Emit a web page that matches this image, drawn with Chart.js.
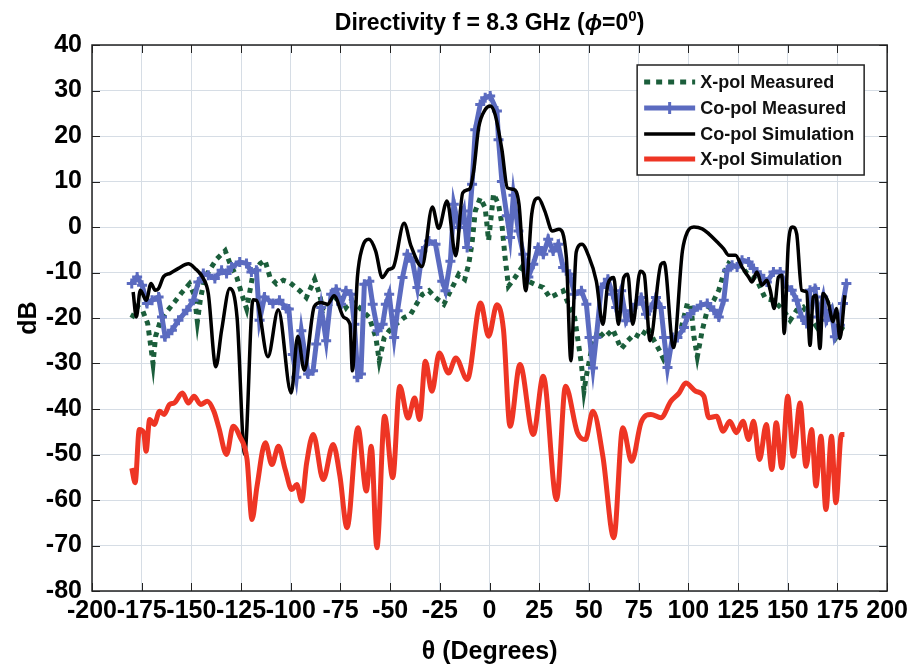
<!DOCTYPE html>
<html>
<head>
<meta charset="utf-8">
<script src="https://cdn.jsdelivr.net/npm/chart.js@4.4.1/dist/chart.umd.min.js"></script>
<style>
  html, body { margin: 0; padding: 0; background: #fff; }
  #chart { display: block; }
</style>
</head>
<body>
<canvas id="chart" width="913" height="670"></canvas>
<script>
// X-pol Measured
const xpolMeasTheta = [-180, -177, -174.5, -172, -170.5, -169.3, -168, -165.5, -162, -158.5, -155, -151, -148.5, -147, -145.5, -143.5, -141, -137.2, -133, -130.5, -127.2, -124.7, -122.2, -119, -115.5, -113, -110.5, -107.2, -103.8, -100.5, -95.5, -92.2, -88, -85.5, -83.8, -81.3, -78.8, -75.5, -72.2, -69.7, -65.5, -60.5, -57.2, -55.5, -53, -50.5, -47.2, -43, -39.7, -36.3, -33.8, -30.5, -27.2, -23, -18.8, -15.5, -12.5, -10.5, -8.8, -7.2, -4.7, -2.2, -0.5, 2, 4.5, 6.2, 7.8, 9.5, 12.8, 16.2, 19.5, 22.8, 27, 30.3, 33.7, 37, 40.3, 42.8, 44.5, 46.2, 47.5, 49, 51.2, 54.5, 57.8, 62, 66.2, 69.5, 72.8, 76.2, 79.5, 82.8, 85.3, 87.5, 90, 93, 96.2, 99.5, 101.2, 102.8, 104.5, 107, 109.5, 112.8, 115.3, 117.8, 120.3, 122.8, 126.2, 129.5, 134.5, 138.7, 142.8, 147.8, 151.2, 154.5, 157.8, 161.2, 164.5, 167.8, 171.2, 174.5, 177.8, 179.5];
const xpolMeasDb = [-20, -17.5, -18.4, -21.2, -26, -30, -24, -20.5, -18.4, -16.5, -14.5, -12.5, -15, -20.8, -16, -11.5, -9.5, -7, -5.2, -8.1, -11, -14.7, -18, -10.3, -8.1, -7.3, -11, -12.5, -11.7, -12.2, -14, -15.5, -11.5, -14.8, -18.4, -17.7, -16.2, -14.8, -17.7, -16.2, -17.7, -19.9, -24.3, -29.4, -24.3, -22.8, -21.4, -19.9, -19.2, -16.6, -14.8, -14, -15.5, -17, -13.3, -10.4, -11.5, -8.2, -3.5, 3.5, 6.4, 4.2, -3, 7.3, 5, 0.6, -6.7, -13, -11.1, -8.9, -11.9, -12.6, -13.3, -15.5, -14.8, -14, -17.7, -19.9, -25, -30.1, -36, -32, -27.2, -22.8, -24.3, -22.5, -26.8, -25, -23.5, -24.3, -22.1, -25, -27, -29, -27, -25, -22.6, -16.8, -17, -24.1, -28.5, -22.7, -18.3, -16.1, -13.9, -10.2, -8, -8.8, -8.4, -10.2, -11.7, -15.7, -16.1, -18.3, -20.5, -18.3, -17.6, -19.8, -21.9, -16.8, -16.1, -24.1, -21.9, -21.2];

// Co-pol Measured
const copolMeasTheta = [-180, -177.3, -174.8, -172.3, -169.8, -166.5, -164.8, -163.2, -159.8, -156.5, -152.3, -149, -146.5, -144, -141.5, -138.2, -134.8, -132.3, -129.8, -125.7, -122.3, -119.8, -117.3, -115.7, -113.2, -109, -105.7, -102.3, -101, -99, -97.2, -94.7, -91.3, -88.8, -87.2, -84.7, -82.2, -79.7, -77.2, -74.7, -72.2, -69.7, -68, -66.3, -64.7, -63, -60.5, -58.8, -56.3, -53.8, -52.2, -50.5, -48, -46.3, -43.8, -41.3, -38.8, -36.3, -33.8, -30.5, -27.2, -23.8, -22.2, -19.7, -18, -15.5, -13, -11.3, -8.8, -7.2, -4.7, -2.2, 0.3, 3.7, 4.5, 6.2, 8.7, 10.3, 12, 14.5, 17, 19.5, 22, 24.5, 27, 29.5, 32, 34.5, 37, 40.3, 42.8, 46.2, 48.7, 50.3, 52, 53.7, 56.2, 59.5, 62, 63.7, 66.2, 68.7, 71.2, 73.7, 76.2, 78.7, 81.2, 83.7, 86.2, 87.8, 89.5, 92, 94.5, 97.8, 99.5, 102.8, 106.2, 109.5, 112.8, 115.3, 117.8, 119.5, 122, 124.5, 127, 130.3, 132.8, 136.2, 139.5, 142.8, 146.2, 149.5, 152, 154.5, 157, 159.5, 161.2, 163.7, 165.3, 167.8, 169.5, 172, 173.7, 176.2, 177.8, 179.5];
const copolMeasDb = [-12.4, -11, -12.8, -16.8, -16.1, -15.4, -19.8, -24.1, -22.7, -20.5, -18.3, -16.1, -12.1, -10.2, -10.6, -11.3, -9.5, -10.2, -8.8, -7.7, -8, -9.9, -9.5, -20.5, -15.4, -16.8, -16.1, -17.9, -18, -28, -33, -22.8, -32.3, -31.6, -25.7, -17.7, -25, -14.8, -13.7, -17, -14, -14.8, -21.4, -33, -32.3, -12.6, -11.9, -17, -22.8, -21.4, -17, -14.8, -24.3, -18.4, -11.1, -6, -7.5, -13.3, -5.3, -3.1, -3.8, -11.9, -14, -7.5, 5, -0.1, 3.5, -4.5, 9.4, 21.4, 26.9, 28.4, 28.8, 25.5, 19.2, 10, 2.5, -2.3, 7, -0.9, -6, -11, -8.2, -4.5, -6, -2.7, -5.3, -3.8, -8.9, -10.4, -14.8, -14, -17, -24.3, -31, -24.3, -13.3, -11.5, -14.8, -17.7, -14, -20.6, -18.4, -17, -15.5, -19.2, -17.7, -15.5, -17.7, -24.3, -30.9, -24.3, -24.3, -22.1, -19.8, -18.3, -17.2, -16.8, -18.3, -19.8, -16.1, -9.5, -8.4, -8.8, -7.3, -7.7, -9.1, -10.6, -12.1, -9.9, -9.9, -13.2, -13.9, -16.1, -19.8, -21.2, -13.9, -13.5, -19.8, -15.4, -20.5, -18.3, -24.1, -21.6, -16.8, -12.4];

// Co-pol Simulation
const copolSimTheta = [-179.3, -177.7, -175.7, -172.7, -170.3, -168.2, -166.5, -164, -160.7, -156.5, -151.5, -148.2, -144, -141.5, -137.7, -134.8, -130.7, -127, -123.2, -119, -117.3, -111.5, -106.3, -99.8, -96.5, -93.2, -88.2, -84.8, -81.5, -78.2, -73.2, -70.2, -69, -66.5, -64, -60.7, -57.3, -54, -50.7, -48.5, -43, -39.5, -34, -28.8, -25.6, -21.4, -17, -13.5, -10, -8, -5.5, -2.2, 0.3, 2.8, 6.2, 9, 12, 14.8, 18.2, 21.2, 24.5, 27.8, 31.6, 34.9, 38.6, 40.9, 43.6, 46.5, 49.5, 53.7, 57, 59.5, 62.5, 64.8, 67.5, 69.5, 72, 75.8, 77.8, 80.7, 86.2, 87.8, 92.5, 97, 99.5, 102.8, 107, 110.3, 114.5, 117.8, 120.3, 123.7, 127, 130.3, 132, 134.5, 137, 139.5, 141.2, 143.2, 145.3, 147, 148.2, 150.3, 152.5, 154.5, 157, 159.5, 161.2, 162.8, 164.2, 166.2, 167.8, 170.3, 172.8, 174.5, 176.2, 178.7];
const copolSimDb = [-14.3, -19.8, -13.9, -16.1, -12.4, -13.9, -13.5, -10.9, -10.2, -9.1, -8.1, -9.1, -11.3, -14.6, -30.7, -22.7, -13.5, -20, -50, -16, -16.1, -28.5, -18.2, -36.5, -24, -31.5, -17.5, -16.6, -17, -15.1, -19.9, -21.4, -31.6, -11.1, -4.5, -2.7, -5.3, -11.1, -9.3, -8.9, 0.8, -4.2, -8.7, 4.4, -0.3, 5.7, -6.3, 7.5, 8.4, 12.3, 21.8, 25.8, 26.6, 24.7, 17, 8.6, 8.3, 5, -14, 2.8, 6.4, 3.5, -0.9, -0.5, -6.5, -29.4, -5.5, -3.8, -6, -11.9, -21.4, -12.6, -11.1, -21.4, -11.1, -10.4, -21.4, -9.7, -10.4, -25, -8.2, -7.8, -26.5, -5.3, -1.1, 0, -0.4, -1.5, -3.3, -4.8, -6.2, -6.2, -8.8, -11, -12.1, -9.9, -12.8, -11.7, -13.9, -17.9, -11, -10.6, -23.4, -3.7, 0, -1.5, -13.9, -14.3, -26, -15.4, -15, -26.7, -14.6, -16.5, -20.8, -17.9, -24.5, -15];

// X-pol Simulation
const xpolSimTheta = [-180, -178.3, -176.2, -174, -172.8, -171, -168.7, -166, -163.7, -161, -158.7, -154.5, -151.5, -148.7, -145.3, -142, -138.7, -136.2, -132.3, -129, -125.7, -122, -119.5, -117, -112.8, -109.5, -106.2, -102.8, -99.5, -97, -94.5, -92, -88.7, -83.7, -78.7, -75.3, -71.7, -66.2, -62, -59.5, -56.7, -52.8, -48.7, -45.2, -41, -37.7, -35.2, -32.3, -29, -25.3, -20.7, -17, -11.2, -4.5, -0.5, 3.7, 7, 10.3, 15.3, 22, 27, 33.7, 38.2, 44.2, 48.2, 52, 57, 62.5, 67, 71.5, 76.2, 81.2, 86.2, 91.2, 95.3, 98.7, 103.7, 107.8, 110.3, 114.2, 117.5, 120.8, 124.2, 127.5, 130.3, 132.8, 135.8, 139.2, 142, 144.2, 147, 150, 152.8, 156.2, 159.2, 162, 164.2, 166.7, 169.2, 172, 174.2, 177, 178.5];
const xpolSimDb = [-53, -56.2, -44.5, -45.2, -49.3, -42.3, -43.4, -40.5, -41.2, -39, -38.7, -36.5, -38.7, -37.2, -39, -38.3, -40.5, -44.1, -50, -43.8, -46, -51.1, -64.3, -57, -47.4, -52.2, -48.2, -53.3, -57.7, -56.6, -60.2, -51.8, -45.6, -55.5, -47.8, -54.7, -66.1, -44.1, -58, -48.2, -70.5, -41.6, -55.1, -35, -42, -37.6, -42.3, -29.5, -36.1, -27.7, -32.1, -28.8, -33.5, -16.7, -24, -17.1, -22.6, -43.8, -30.2, -45.6, -32.8, -59.9, -35, -45.2, -46.7, -40.5, -50.4, -68.3, -44.1, -51.5, -43, -41.2, -41.9, -38.3, -36.5, -34.3, -36.1, -37.2, -41.9, -41.6, -44.9, -42.7, -45.2, -42.7, -46.7, -42.7, -51.1, -43.4, -53.3, -43, -52.9, -37.2, -50.4, -38.7, -52.6, -44.5, -56.9, -46, -62.1, -46, -60.6, -45.6, -45.6];

const seriesLabels = ['X-pol Measured', 'Co-pol Measured', 'Co-pol Simulation', 'X-pol Simulation'];
const seriesColors = ['#1b5e3b', '#5b6bc0', '#000000', '#ee3524'];

// pick a narrow font if one is installed, like the reference's condensed labels
const probe = document.createElement('canvas').getContext('2d');
probe.font = 'bold 30px "Liberation Sans Narrow", monospace';
const wNarrow = probe.measureText('-200 Degrees').width;
probe.font = 'bold 30px monospace';
const wMono = probe.measureText('-200 Degrees').width;
const hasNarrow = Math.abs(wNarrow - wMono) > 1;
const axisFont = hasNarrow
  ? { family: '"Liberation Sans Narrow"', size: 30, weight: 'bold' }
  : { family: '"Liberation Sans"', size: 25, weight: 'bold' };

const toPoints = (th, db) => th.map((t, i) => ({ x: t, y: db[i] }));

// title text centred over the plot area
const titlePlugin = {
  id: 'plotTitle',
  afterDraw(chart) {
    const { ctx, chartArea } = chart;
    const parts = [
      { t: 'Directivity f = 8.3 GHz (', f: 'bold 23px "Liberation Sans"', dy: 0 },
      { t: 'ϕ', f: 'italic bold 23px "Liberation Sans"', dy: 0 },
      { t: '=0', f: 'bold 23px "Liberation Sans"', dy: 0 },
      { t: '0', f: 'bold 15px "Liberation Sans"', dy: -9 },
      { t: ')', f: 'bold 23px "Liberation Sans"', dy: 0 }
    ];
    ctx.save();
    let total = 0;
    parts.forEach(p => { ctx.font = p.f; p.w = ctx.measureText(p.t).width; total += p.w; });
    let x = (chartArea.left + chartArea.right) / 2 - total / 2;
    ctx.fillStyle = '#000';
    ctx.textBaseline = 'alphabetic';
    parts.forEach(p => { ctx.font = p.f; ctx.fillText(p.t, x, 30 + p.dy); x += p.w; });
    ctx.restore();
  }
};

// box round the plot with inward tick marks
const framePlugin = {
  id: 'frame',
  afterDraw(chart) {
    const { ctx, chartArea: a, scales } = chart;
    ctx.save();
    ctx.strokeStyle = '#222';
    ctx.lineWidth = 1;
    ctx.beginPath();
    scales.x.ticks.forEach(t => {
      const px = Math.round(scales.x.getPixelForValue(t.value)) + 0.5;
      ctx.moveTo(px, a.bottom); ctx.lineTo(px, a.bottom - 8);
      ctx.moveTo(px, a.top); ctx.lineTo(px, a.top + 8);
    });
    scales.y.ticks.forEach(t => {
      const py = Math.round(scales.y.getPixelForValue(t.value)) + 0.5;
      ctx.moveTo(a.left, py); ctx.lineTo(a.left + 8, py);
      ctx.moveTo(a.right, py); ctx.lineTo(a.right - 8, py);
    });
    ctx.stroke();
    ctx.lineWidth = 1.5;
    ctx.strokeRect(a.left, a.top, a.right - a.left, a.bottom - a.top);
    ctx.restore();
  }
};

// legend box in the upper right of the plot
const legendPlugin = {
  id: 'boxLegend',
  afterDraw(chart) {
    const { ctx, chartArea: a } = chart;
    const bx = a.right - 250, by = a.top + 20, bw = 227, bh = 110;
    ctx.save();
    ctx.fillStyle = '#fff';
    ctx.fillRect(bx, by, bw, bh);
    ctx.strokeStyle = '#222';
    ctx.lineWidth = 1.5;
    ctx.strokeRect(bx, by, bw, bh);
    const rows = [by + 17, by + 43, by + 69, by + 94];
    rows.forEach((ry, i) => {
      const x0 = bx + 7, x1 = bx + 58;
      ctx.strokeStyle = seriesColors[i];
      ctx.lineWidth = i === 2 ? 3.5 : 5;
      ctx.setLineDash(i === 0 ? [6, 6] : []);
      ctx.beginPath();
      ctx.moveTo(x0, ry); ctx.lineTo(x1, ry);
      ctx.stroke();
      ctx.setLineDash([]);
      if (i === 1) {
        const cx = (x0 + x1) / 2;
        ctx.lineWidth = 3;
        ctx.beginPath();
        ctx.moveTo(cx - 6, ry); ctx.lineTo(cx + 6, ry);
        ctx.moveTo(cx, ry - 6); ctx.lineTo(cx, ry + 6);
        ctx.stroke();
      }
      ctx.fillStyle = '#111';
      ctx.font = 'bold 18px "Liberation Sans"';
      ctx.textBaseline = 'middle';
      ctx.fillText(seriesLabels[i], bx + 63, ry + 1);
    });
    ctx.restore();
  }
};

new Chart(document.getElementById('chart'), {
  type: 'line',
  data: {
    datasets: [
      {
        label: seriesLabels[0],
        data: toPoints(xpolMeasTheta, xpolMeasDb),
        borderColor: seriesColors[0],
        borderWidth: 5,
        borderDash: [5, 5],
        pointRadius: 0,
        tension: 0,
        order: 4
      },
      {
        label: seriesLabels[1],
        data: toPoints(copolMeasTheta, copolMeasDb),
        borderColor: seriesColors[1],
        backgroundColor: seriesColors[1],
        borderWidth: 5,
        pointStyle: 'cross',
        pointRadius: 5,
        pointBorderWidth: 3,
        pointBorderColor: seriesColors[1],
        tension: 0,
        order: 3
      },
      {
        label: seriesLabels[2],
        data: toPoints(copolSimTheta, copolSimDb),
        borderColor: seriesColors[2],
        borderWidth: 3.5,
        pointRadius: 0,
        cubicInterpolationMode: 'monotone',
        order: 2
      },
      {
        label: seriesLabels[3],
        data: toPoints(xpolSimTheta, xpolSimDb),
        borderColor: seriesColors[3],
        borderWidth: 5,
        pointRadius: 0,
        cubicInterpolationMode: 'monotone',
        order: 1
      }
    ]
  },
  options: {
    responsive: false,
    animation: false,
    devicePixelRatio: 1,
    layout: { padding: { top: 45, right: 23, left: 0, bottom: 0 } },
    plugins: {
      legend: { display: false },
      title: { display: false },
      tooltip: { enabled: false }
    },
    scales: {
      x: {
        type: 'linear',
        min: -200,
        max: 200,
        ticks: { stepSize: 25, autoSkip: false, maxRotation: 0, color: '#000', font: axisFont, padding: 5 },
        grid: { color: '#d6dde5', lineWidth: 1, drawTicks: false },
        border: { display: false },
        title: { display: true, text: 'θ (Degrees)', color: '#000', font: axisFont, padding: { top: 0, bottom: 3 } },
        afterFit: s => { s.height = 79; }
      },
      y: {
        min: -80,
        max: 40,
        ticks: { stepSize: 10, color: '#000', font: axisFont, padding: 10 },
        grid: { color: '#d6dde5', lineWidth: 1, drawTicks: false },
        border: { display: false },
        title: { display: true, text: 'dB', color: '#000', font: axisFont, padding: { top: 14, bottom: 0 } },
        afterFit: s => { s.width = 92; }
      }
    }
  },
  plugins: [titlePlugin, framePlugin, legendPlugin]
});
</script>
</body>
</html>
